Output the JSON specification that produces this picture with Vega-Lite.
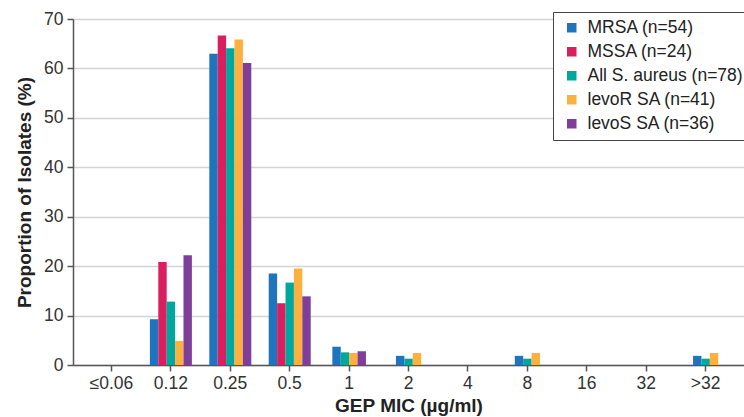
{
  "$schema": "https://vega.github.io/schema/vega-lite/v6.json",
  "width": 671,
  "height": 346,
  "autosize": "none",
  "padding": {"left": 73, "top": 19, "right": 0, "bottom": 52},
  "background": "white",
  "config": {"view": {"stroke": null}, "font": "Liberation Sans"},
  "data": {
    "values": [
      {"mic": "0.12", "series": "MRSA (n=54)", "pct": 9.26},
      {"mic": "0.25", "series": "MRSA (n=54)", "pct": 62.96},
      {"mic": "0.5", "series": "MRSA (n=54)", "pct": 18.52},
      {"mic": "1", "series": "MRSA (n=54)", "pct": 3.70},
      {"mic": "2", "series": "MRSA (n=54)", "pct": 1.85},
      {"mic": "8", "series": "MRSA (n=54)", "pct": 1.85},
      {"mic": ">32", "series": "MRSA (n=54)", "pct": 1.85},
      {"mic": "0.12", "series": "MSSA (n=24)", "pct": 20.83},
      {"mic": "0.25", "series": "MSSA (n=24)", "pct": 66.67},
      {"mic": "0.5", "series": "MSSA (n=24)", "pct": 12.5},
      {"mic": "0.12", "series": "All S. aureus (n=78)", "pct": 12.82},
      {"mic": "0.25", "series": "All S. aureus (n=78)", "pct": 64.10},
      {"mic": "0.5", "series": "All S. aureus (n=78)", "pct": 16.67},
      {"mic": "1", "series": "All S. aureus (n=78)", "pct": 2.56},
      {"mic": "2", "series": "All S. aureus (n=78)", "pct": 1.28},
      {"mic": "8", "series": "All S. aureus (n=78)", "pct": 1.28},
      {"mic": ">32", "series": "All S. aureus (n=78)", "pct": 1.28},
      {"mic": "0.12", "series": "levoR SA (n=41)", "pct": 4.88},
      {"mic": "0.25", "series": "levoR SA (n=41)", "pct": 65.85},
      {"mic": "0.5", "series": "levoR SA (n=41)", "pct": 19.51},
      {"mic": "1", "series": "levoR SA (n=41)", "pct": 2.44},
      {"mic": "2", "series": "levoR SA (n=41)", "pct": 2.44},
      {"mic": "8", "series": "levoR SA (n=41)", "pct": 2.44},
      {"mic": ">32", "series": "levoR SA (n=41)", "pct": 2.44},
      {"mic": "0.12", "series": "levoS SA (n=36)", "pct": 22.22},
      {"mic": "0.25", "series": "levoS SA (n=36)", "pct": 61.11},
      {"mic": "0.5", "series": "levoS SA (n=36)", "pct": 13.89},
      {"mic": "1", "series": "levoS SA (n=36)", "pct": 2.78}
    ]
  },
  "transform": [
    {"calculate": "indexof(['MRSA (n=54)','MSSA (n=24)','All S. aureus (n=78)','levoR SA (n=41)','levoS SA (n=36)'], datum.series)", "as": "sidx"},
    {"window": [{"op": "row_number", "as": "idx"}], "groupby": ["mic"], "sort": [{"field": "sidx"}]},
    {"joinaggregate": [{"op": "count", "as": "n"}], "groupby": ["mic"]},
    {"calculate": "datum.idx - (datum.n + 1) / 2", "as": "off"}
  ],
  "mark": {"type": "bar", "size": 8.4},
  "encoding": {
    "x": {
      "field": "mic",
      "type": "nominal",
      "sort": ["≤0.06", "0.12", "0.25", "0.5", "1", "2", "4", "8", "16", "32", ">32"],
      "scale": {
        "domain": ["≤0.06", "0.12", "0.25", "0.5", "1", "2", "4", "8", "16", "32", ">32"],
        "paddingInner": 0.295,
        "paddingOuter": 0.294
      },
      "axis": {
        "title": "GEP MIC (µg/ml)",
        "titleFontSize": 19,
        "titleFontWeight": "bold",
        "titleColor": "#222",
        "titlePadding": 5,
        "labelAngle": 0,
        "labelFontSize": 17.5,
        "labelColor": "#333",
        "labelPadding": 3,
        "tickSize": 6,
        "tickColor": "#555",
        "domainColor": "#555",
        "domainWidth": 1.5,
        "tickWidth": 1.5
      }
    },
    "xOffset": {
      "field": "off",
      "type": "quantitative",
      "scale": {"domain": [-2.5, 2.5], "range": [0, 42]}
    },
    "y": {
      "field": "pct",
      "type": "quantitative",
      "scale": {"domain": [0, 70]},
      "axis": {
        "title": "Proportion of Isolates (%)",
        "titleFontSize": 19,
        "titleFontWeight": "bold",
        "titleColor": "#222",
        "titlePadding": 9,
        "values": [0, 10, 20, 30, 40, 50, 60, 70],
        "labelFontSize": 17.5,
        "labelColor": "#333",
        "labelPadding": 4,
        "tickSize": 6,
        "tickColor": "#555",
        "tickWidth": 1.5,
        "domainColor": "#555",
        "domainWidth": 1.5,
        "grid": true,
        "gridColor": "#d4d4d4",
        "gridWidth": 1.5
      }
    },
    "color": {
      "field": "series",
      "type": "nominal",
      "sort": ["MRSA (n=54)", "MSSA (n=24)", "All S. aureus (n=78)", "levoR SA (n=41)", "levoS SA (n=36)"],
      "scale": {
        "domain": ["MRSA (n=54)", "MSSA (n=24)", "All S. aureus (n=78)", "levoR SA (n=41)", "levoS SA (n=36)"],
        "range": ["#1f75bd", "#da1f5f", "#00a79d", "#fbb040", "#7f3f98"]
      },
      "legend": {
        "title": null,
        "orient": "none",
        "legendX": 480,
        "legendY": -7,
        "symbolType": "square",
        "symbolSize": 90,
        "labelFontSize": 17.5,
        "labelColor": "#222",
        "strokeColor": "#444",
        "fillColor": "white",
        "padding": 7,
        "rowPadding": 5,
        "symbolOffset": 3,
        "labelOffset": 7
      }
    }
  }
}
